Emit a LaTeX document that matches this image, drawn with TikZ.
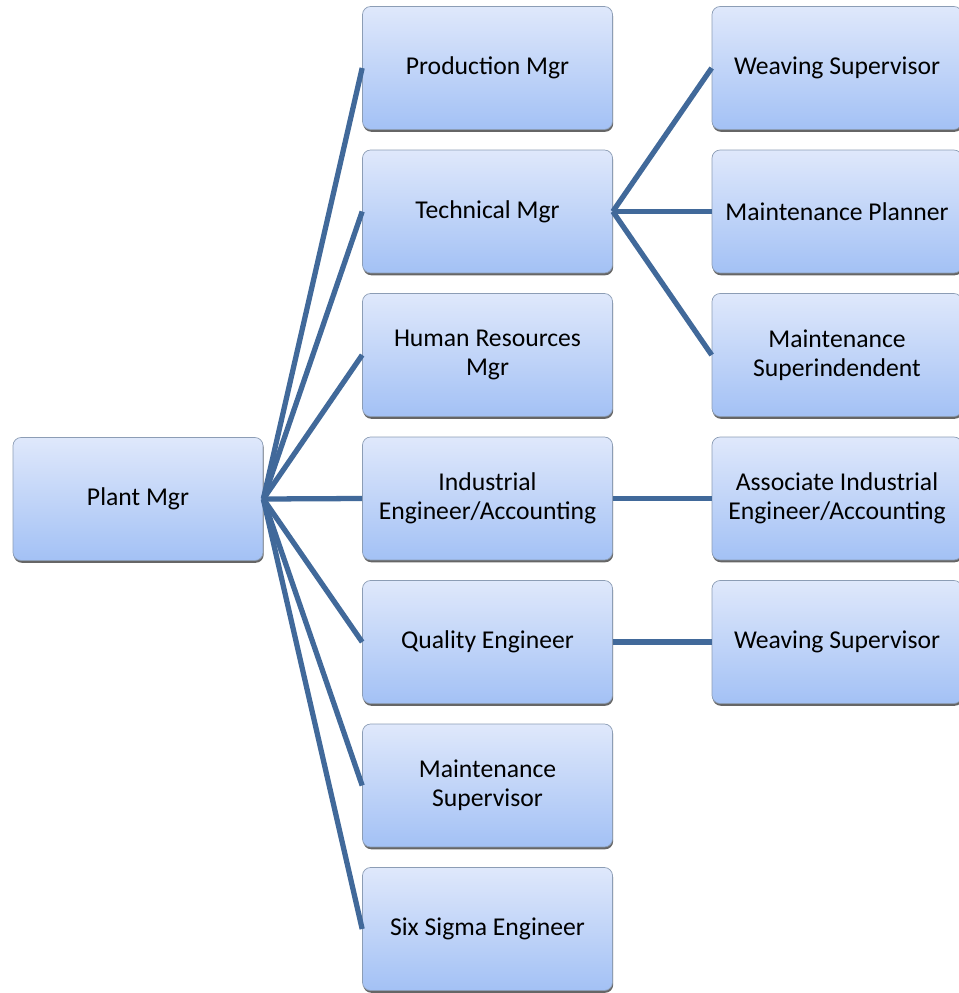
\documentclass[tikz,border=0pt]{standalone}
\usepackage{fontspec}
\setmainfont{Carlito}
\usepackage{tikz}
\usepackage{xcolor}
\usetikzlibrary{shadows}
\definecolor{boxtop}{HTML}{DFE8FB}
\definecolor{boxbot}{HTML}{A3C1F5}
\definecolor{boxline}{HTML}{8C9DB5}
\definecolor{link}{HTML}{41699A}
\tikzset{unit/.style={black,draw=boxline,top color=boxtop,bottom color=boxbot,rectangle,rounded corners=0.16cm,minimum width=5cm,minimum height=2.46cm,align=center,font=\fontsize{14.6}{16.5}\selectfont,drop shadow={shadow xshift=0.4pt,shadow yshift=-1.3pt,fill=black!60,opacity=1}}}
\tikzset{link/.style={draw=link,line width=3pt}}

\begin{document}
\begin{tikzpicture}[x=0.02cm,y=-0.02cm]
    \useasboundingbox (0,0) rectangle (958,993);

    \node[unit] (plant) at (138,499) {Plant Mgr};

    \node[unit] (prod) at (487.5,68) {Production Mgr};
    \node[unit] (tech) at (487.5,211.5) {Technical Mgr};
    \node[unit] (hr) at (487.5,355) {Human Resources\\Mgr};
    \node[unit] (ie) at (487.5,498.5) {Industrial\\Engineer/Accounting};
    \node[unit] (qe) at (487.5,642) {Quality Engineer};
    \node[unit] (ms) at (487.5,785.5) {Maintenance\\Supervisor};
    \node[unit] (ss) at (487.5,929) {Six Sigma Engineer};

    \node[unit] (ws1) at (837,68) {Weaving Supervisor};
    \node[unit] (mp) at (837,211.5) {Maintenance Planner};
    \node[unit] (msup) at (837,355) {Maintenance\\Superindendent};
    \node[unit] (aie) at (837,498.5) {Associate Industrial\\Engineer/Accounting};
    \node[unit] (ws2) at (837,642) {Weaving Supervisor};

    \draw[link] (plant.east) -- (prod.west);
    \draw[link] (plant.east) -- (tech.west);
    \draw[link] (plant.east) -- (hr.west);
    \draw[link] (plant.east) -- (ie.west);
    \draw[link] (plant.east) -- (qe.west);
    \draw[link] (plant.east) -- (ms.west);
    \draw[link] (plant.east) -- (ss.west);

    \draw[link] (tech.east) -- (ws1.west);
    \draw[link] (tech.east) -- (mp.west);
    \draw[link] (tech.east) -- (msup.west);

    \draw[link] (ie.east) -- (aie.west);
    \draw[link] (qe.east) -- (ws2.west);
\end{tikzpicture}
\end{document}
